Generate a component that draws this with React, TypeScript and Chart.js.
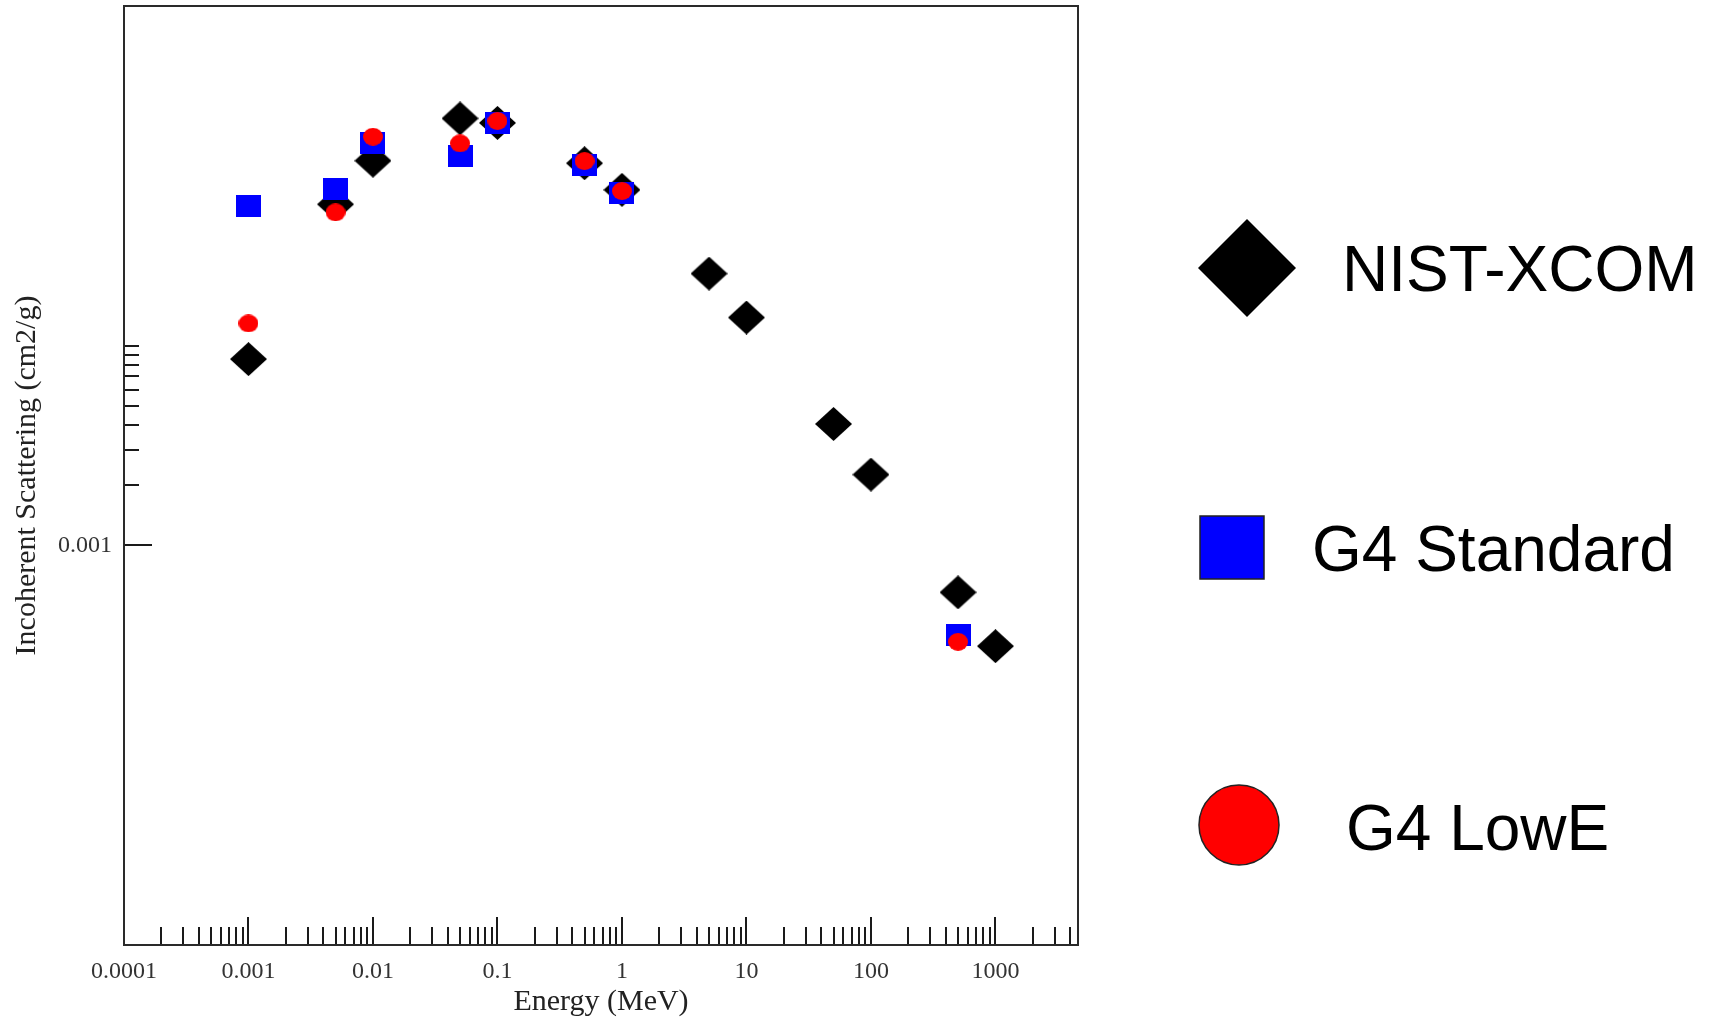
import { useEffect, useRef } from 'react';
import { Chart, registerables } from 'chart.js';

Chart.register(...registerables);

// ---------- data ----------
const nistEnergies = [0.001, 0.005, 0.01, 0.05, 0.1, 0.5, 1, 5, 10, 50, 100, 500, 1000];
const nistValues = [0.00855, 0.0509, 0.0841, 0.1369, 0.130, 0.0817, 0.0601, 0.0229, 0.0138, 0.00405, 0.00226, 0.000582, 0.000313];

const g4Energies = [0.001, 0.005, 0.01, 0.05, 0.1, 0.5, 1, 500];
const g4StandardValues = [0.0501, 0.0607, 0.1027, 0.0891, 0.1294, 0.0803, 0.0578, 0.000355];
const g4LowEValues = [0.0129, 0.0464, 0.1109, 0.1027, 0.1329, 0.0838, 0.0593, 0.000329];

const seriesLabels = ['NIST-XCOM', 'G4 Standard', 'G4 LowE'];

const xMajorTicks = [0.0001, 0.001, 0.01, 0.1, 1, 10, 100, 1000];
const xTickLabels = ['0.0001', '0.001', '0.01', '0.1', '1', '10', '100', '1000'];
const yMajorTicks = [0.001];
const yTickLabels = ['0.001'];
const yMinorTicks = [0.002, 0.003, 0.004, 0.005, 0.006, 0.007, 0.008, 0.009, 0.01];
const minorMultipliers = [2, 3, 4, 5, 6, 7, 8, 9];

const xMin = 0.0001;
const xMax = 4600;
const yMin = 0.00001;
const yMax = 0.5;

const xTitle = 'Energy (MeV)';
const yTitle = 'Incoherent Scattering (cm2/g)';

// ---------- layout ----------
const W = 1717;
const H = 1028;
const AREA_LEFT = 124;
const AREA_RIGHT = 1078;
const AREA_TOP = 6;
const AREA_BOTTOM = 945;

function makeMarker(kind: string, w: number, h: number, fill: string) {
  const c = document.createElement('canvas');
  c.width = w;
  c.height = h;
  const g = c.getContext('2d')!;
  g.fillStyle = fill;
  g.beginPath();
  if (kind === 'diamond') {
    g.moveTo(w / 2, 0);
    g.lineTo(w, h / 2);
    g.lineTo(w / 2, h);
    g.lineTo(0, h / 2);
    g.closePath();
  } else if (kind === 'square') {
    g.rect(0, 0, w, h);
  } else {
    g.ellipse(w / 2, h / 2, w / 2, h / 2, 0, 0, Math.PI * 2);
  }
  g.fill();
  return c;
}

const axesPlugin = {
  id: 'axesDecor',
  afterDraw(chart: any) {
    const { ctx, chartArea } = chart;
    const xs = chart.scales.x;
    const ys = chart.scales.y;
    ctx.save();
    ctx.strokeStyle = '#1a1a1a';
    ctx.lineWidth = 2;
    ctx.beginPath();
    const xMinor: number[] = [];
    xMajorTicks.forEach((m) => minorMultipliers.forEach((k) => {
      const v = m * k;
      if (v <= xMax) xMinor.push(v);
    }));
    xMajorTicks.forEach((v) => {
      const px = Math.round(xs.getPixelForValue(v));
      ctx.moveTo(px, chartArea.bottom);
      ctx.lineTo(px, chartArea.bottom - 28);
    });
    xMinor.forEach((v) => {
      const px = Math.round(xs.getPixelForValue(v));
      ctx.moveTo(px, chartArea.bottom);
      ctx.lineTo(px, chartArea.bottom - 18);
    });
    yMajorTicks.forEach((v) => {
      const py = Math.round(ys.getPixelForValue(v));
      ctx.moveTo(chartArea.left, py);
      ctx.lineTo(chartArea.left + 28, py);
    });
    yMinorTicks.forEach((v) => {
      const py = Math.round(ys.getPixelForValue(v));
      ctx.moveTo(chartArea.left, py);
      ctx.lineTo(chartArea.left + 15, py);
    });
    ctx.stroke();
    ctx.lineWidth = 2;
    ctx.strokeStyle = '#2a2a2a';
    ctx.strokeRect(chartArea.left, chartArea.top, chartArea.right - chartArea.left, chartArea.bottom - chartArea.top);
    ctx.restore();
  },
};

const legendPlugin = {
  id: 'sideLegend',
  afterDraw(chart: any) {
    const ctx = chart.ctx;
    const ds = chart.data.datasets;
    ctx.save();
    // NIST diamond
    ctx.fillStyle = ds[0].backgroundColor;
    ctx.beginPath();
    ctx.moveTo(1247, 219);
    ctx.lineTo(1296, 268);
    ctx.lineTo(1247, 317);
    ctx.lineTo(1198, 268);
    ctx.closePath();
    ctx.fill();
    // G4 Standard square
    ctx.fillStyle = ds[1].backgroundColor;
    ctx.strokeStyle = '#222';
    ctx.lineWidth = 1.5;
    ctx.fillRect(1200, 516, 64, 63);
    ctx.strokeRect(1200, 516, 64, 63);
    // G4 LowE circle
    ctx.fillStyle = ds[2].backgroundColor;
    ctx.beginPath();
    ctx.ellipse(1239, 825, 40, 40, 0, 0, Math.PI * 2);
    ctx.fill();
    ctx.stroke();

    ctx.fillStyle = '#000';
    ctx.font = '64px "Liberation Sans", Arial, sans-serif';
    ctx.textBaseline = 'alphabetic';
    ctx.textAlign = 'left';
    ctx.fillText(ds[0].label, 1342, 291);
    ctx.fillText(ds[1].label, 1312, 571);
    ctx.fillText(ds[2].label, 1346, 850);
    ctx.restore();
  },
};

export default function App() {
  const ref = useRef<HTMLCanvasElement | null>(null);

  useEffect(() => {
    if (!ref.current) return;
    const diamond = makeMarker('diamond', 37, 34, '#000000');
    const square = makeMarker('square', 25, 22, '#0000ff');
    const circle = makeMarker('circle', 20, 18, '#ff0000');

    const tickFont = { family: '"Liberation Serif", "Times New Roman", serif', size: 24 };
    const titleFont = { family: '"Liberation Serif", "Times New Roman", serif', size: 30 };

    const chart = new Chart(ref.current, {
      type: 'scatter',
      data: {
        datasets: [
          {
            label: seriesLabels[0],
            data: nistEnergies.map((e, i) => ({ x: e, y: nistValues[i] })),
            backgroundColor: '#000000',
            borderColor: '#000000',
            pointStyle: diamond as any,
            pointRadius: 18,
            order: 3,
          },
          {
            label: seriesLabels[1],
            data: g4Energies.map((e, i) => ({ x: e, y: g4StandardValues[i] })),
            backgroundColor: '#0000ff',
            borderColor: '#0000ff',
            pointStyle: square as any,
            pointRadius: 12,
            order: 2,
          },
          {
            label: seriesLabels[2],
            data: g4Energies.map((e, i) => ({ x: e, y: g4LowEValues[i] })),
            backgroundColor: '#ff0000',
            borderColor: '#ff0000',
            pointStyle: circle as any,
            pointRadius: 10,
            order: 1,
          },
        ],
      },
      options: {
        animation: false,
        responsive: false,
        devicePixelRatio: 1,
        layout: {
          autoPadding: false,
          padding: { left: 0, top: AREA_TOP, right: W - AREA_RIGHT, bottom: 0 },
        },
        plugins: {
          legend: { display: false },
          tooltip: { enabled: false },
        },
        scales: {
          x: {
            type: 'logarithmic',
            position: 'bottom',
            min: xMin,
            max: xMax,
            grid: { display: false, drawTicks: false },
            border: { display: false },
            afterBuildTicks: (scale: any) => {
              scale.ticks = xMajorTicks.map((v) => ({ value: v }));
            },
            afterFit: (scale: any) => {
              scale.height = H - AREA_BOTTOM;
              scale.paddingLeft = 0;
              scale.paddingRight = 0;
            },
            ticks: {
              autoSkip: false,
              maxRotation: 0,
              minRotation: 0,
              padding: 12,
              color: '#333',
              font: tickFont,
              callback: (_v: any, i: number) => xTickLabels[i],
            },
            title: {
              display: true,
              text: xTitle,
              color: '#222',
              font: titleFont,
              padding: { top: 0, bottom: 8 },
            },
          },
          y: {
            type: 'logarithmic',
            position: 'left',
            min: yMin,
            max: yMax,
            grid: { display: false, drawTicks: false },
            border: { display: false },
            afterBuildTicks: (scale: any) => {
              scale.ticks = yMajorTicks.map((v) => ({ value: v }));
            },
            afterFit: (scale: any) => {
              scale.width = AREA_LEFT;
              scale.paddingTop = 0;
              scale.paddingBottom = 0;
            },
            ticks: {
              autoSkip: false,
              padding: 12,
              color: '#333',
              font: tickFont,
              callback: (_v: any, i: number) => yTickLabels[i],
            },
            title: {
              display: true,
              text: yTitle,
              color: '#222',
              font: titleFont,
              padding: { top: 9, bottom: 0 },
            },
          },
        },
      },
      plugins: [axesPlugin, legendPlugin],
    });
    return () => chart.destroy();
  }, []);

  return (
    <div style={{ position: 'fixed', left: 0, top: 0, width: W, height: 1017, overflow: 'hidden', background: '#fff' }}>
      <canvas ref={ref} width={W} height={H} style={{ width: W, height: H, display: 'block' }} />
    </div>
  );
}
